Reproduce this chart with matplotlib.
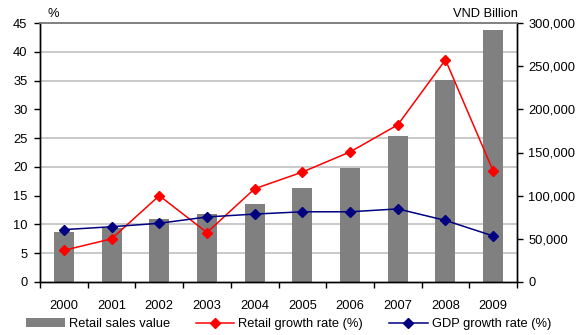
import matplotlib.pyplot as plt
from matplotlib.lines import Line2D
from matplotlib.patches import Patch
import numpy as np

# Chart data
years = ['2000', '2001', '2002', '2003', '2004', '2005', '2006', '2007', '2008', '2009']
retail_sales = [57500, 63000, 72500, 78500, 90000, 108500, 132500, 169000, 234000, 292000]  # VND Billion
retail_growth = [5.5, 7.5, 15.0, 8.6, 16.2, 19.1, 22.6, 27.3, 38.6, 19.3]  # %
gdp_growth = [9.1, 9.6, 10.2, 11.3, 11.8, 12.2, 12.2, 12.7, 10.7, 8.0]  # %

plt.rcParams['font.family'] = ['Liberation Sans', 'DejaVu Sans']
plt.rcParams['font.size'] = 9.3

fig = plt.figure(figsize=(5.77, 3.35), dpi=100)
ax = fig.add_axes([40 / 577, 1 - 282 / 335, 477 / 577, 259 / 335])
ax2 = ax.twinx()

x = np.arange(len(years))

# Bars on the right (VND) axis, drawn underneath the lines
ax2.bar(x, retail_sales, width=0.42, color='#808080', zorder=2)
ax2.set_ylim(0, 300000)
ax2.set_yticks(np.arange(0, 300001, 50000))
ax2.set_yticklabels([f'{v:,}' for v in range(0, 300001, 50000)])
ax2.set_yticks(np.linspace(0, 300000, 10)[1:-1], minor=True)
ax2.yaxis.grid(True, which='minor', color='#c0c0c0', linewidth=1.2, zorder=0)
ax2.set_axisbelow(True)
ax2.tick_params(axis='y', which='major', direction='out', length=4, pad=4, width=1)
ax2.tick_params(axis='y', which='minor', length=0)

# Lines on the left (%) axis
ax.plot(x, retail_growth, color='#ff0000', lw=1.1, marker='D', ms=5.5, zorder=3)
ax.plot(x, gdp_growth, color='#000080', lw=1.1, marker='D', ms=5.5, zorder=3)
ax.set_ylim(0, 45)
ax.set_yticks(range(0, 46, 5))
ax.set_xlim(-0.5, len(years) - 0.5)
ax.set_xticks(x)
ax.set_xticklabels(years)
ax.set_xticks(np.arange(-0.5, len(years)), minor=True)
ax.tick_params(axis='x', which='major', length=0, pad=13)
ax.tick_params(axis='x', which='minor', direction='out', length=4, width=1)
ax.tick_params(axis='y', direction='out', length=4, pad=5, width=1)

ax.set_zorder(ax2.get_zorder() + 1)
ax.patch.set_visible(False)

for a in (ax, ax2):
    a.spines['top'].set_color('#808080')
    a.spines['top'].set_linewidth(1.2)
    for s in ('left', 'right', 'bottom'):
        a.spines[s].set_color('black')
        a.spines[s].set_linewidth(1)

fig.text(48 / 577, 1 - 14 / 335, '%', ha='left', va='center')
fig.text(518 / 577, 1 - 14 / 335, 'VND Billion', ha='right', va='center')

handles = [
    Patch(facecolor='#808080'),
    Line2D([], [], color='#ff0000', lw=1.1, marker='D', ms=5),
    Line2D([], [], color='#000080', lw=1.1, marker='D', ms=5),
]
labels = ['Retail sales value', 'Retail growth rate (%)', 'GDP growth rate (%)']
fig.legend(handles, labels, loc='center', bbox_to_anchor=(0.5, 1 - 324 / 335), ncol=3,
           frameon=False, handlelength=3.0, handletextpad=0.3, columnspacing=2.0,
           borderaxespad=0)

fig.savefig('out.png', dpi=100)
